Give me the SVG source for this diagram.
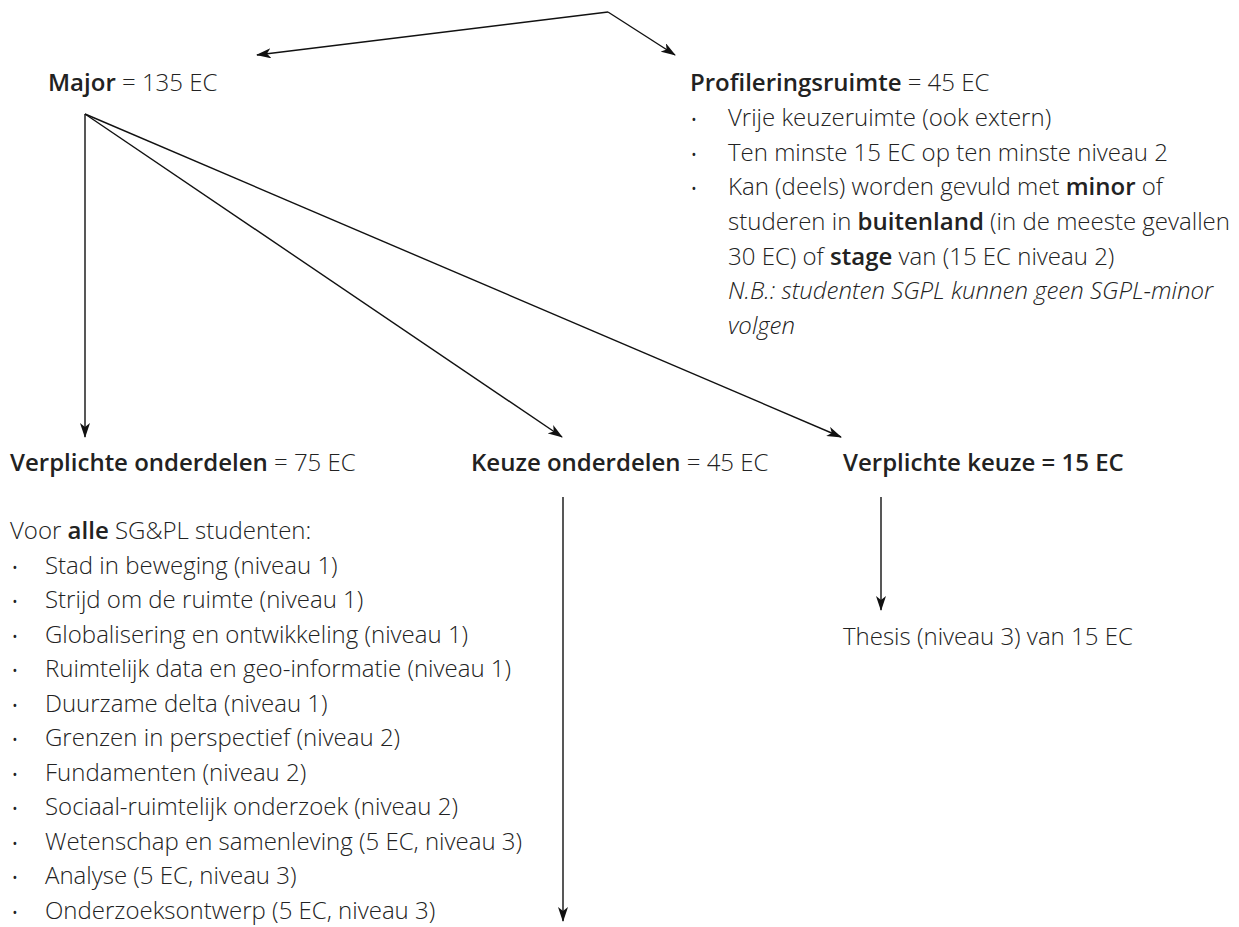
<svg xmlns="http://www.w3.org/2000/svg" width="1239" height="927" viewBox="0 0 1239 927">
<style>
text{font-family:"Open Sans","Liberation Sans",sans-serif;font-size:24px;font-weight:300;fill:#222}
.b{font-weight:600}
.i{font-style:italic}
.d{font-size:18px;text-anchor:middle}
.c{stroke:#111;stroke-width:1.4;fill:none;marker-end:url(#ah)}
</style>
<defs>
<marker id="ah" viewBox="0 0 15 10" refX="14" refY="5" markerWidth="15" markerHeight="10" markerUnits="userSpaceOnUse" orient="auto">
<path d="M0,0 L15,5 L0,10 L4,5 Z" fill="#111"/>
</marker>
</defs>
<rect width="1239" height="927" fill="#fff"/>
<g id="connectors">
<path class="c" d="M608,12 L257,55"/>
<path class="c" d="M608,12 L675,55"/>
<path class="c" d="M85,114 L85,437"/>
<path class="c" d="M85,114 L562,437"/>
<path class="c" d="M85,114 L841,437"/>
<path class="c" d="M563,497 L563,921"/>
<path class="c" d="M881,497 L881,610"/>
</g>
<g id="major"><text x="48" y="91"><tspan class="b">Major</tspan> = 135 EC</text></g>
<g id="profilering">
<text x="690" y="91"><tspan class="b">Profileringsruimte</tspan> = 45 EC</text>
<text x="694" y="126" class="d">•</text><text x="728" y="126">Vrije keuzeruimte (ook extern)</text>
<text x="694" y="161" class="d">•</text><text x="728" y="161">Ten minste 15 EC op ten minste niveau 2</text>
<text x="694" y="195" class="d">•</text><text x="728" y="195">Kan (deels) worden gevuld met <tspan class="b">minor</tspan> of</text>
<text x="728" y="230">studeren in <tspan class="b">buitenland</tspan> (in de meeste gevallen</text>
<text x="728" y="265">30 EC) of <tspan class="b">stage</tspan> van (15 EC niveau 2)</text>
<text x="728" y="299" class="i">N.B.: studenten SGPL kunnen geen SGPL-minor</text>
<text x="728" y="334" class="i">volgen</text>
</g>
<g id="verplicht">
<text x="10" y="471"><tspan class="b">Verplichte onderdelen</tspan> = 75 EC</text>
<text x="10" y="539">Voor <tspan class="b">alle</tspan> SG&amp;PL studenten:</text>
<text x="15" y="573.5" class="d">•</text><text x="45" y="573.5">Stad in beweging (niveau 1)</text>
<text x="15" y="608" class="d">•</text><text x="45" y="608">Strijd om de ruimte (niveau 1)</text>
<text x="15" y="642.5" class="d">•</text><text x="45" y="642.5">Globalisering en ontwikkeling (niveau 1)</text>
<text x="15" y="677" class="d">•</text><text x="45" y="677">Ruimtelijk data en geo-informatie (niveau 1)</text>
<text x="15" y="711.5" class="d">•</text><text x="45" y="711.5">Duurzame delta (niveau 1)</text>
<text x="15" y="746" class="d">•</text><text x="45" y="746">Grenzen in perspectief (niveau 2)</text>
<text x="15" y="780.5" class="d">•</text><text x="45" y="780.5">Fundamenten (niveau 2)</text>
<text x="15" y="815" class="d">•</text><text x="45" y="815">Sociaal-ruimtelijk onderzoek (niveau 2)</text>
<text x="15" y="849.5" class="d">•</text><text x="45" y="849.5">Wetenschap en samenleving (5 EC, niveau 3)</text>
<text x="15" y="884" class="d">•</text><text x="45" y="884">Analyse (5 EC, niveau 3)</text>
<text x="15" y="918.5" class="d">•</text><text x="45" y="918.5">Onderzoeksontwerp (5 EC, niveau 3)</text>
</g>
<g id="keuze"><text x="471" y="471"><tspan class="b">Keuze onderdelen</tspan> = 45 EC</text></g>
<g id="verplichtekeuze"><text x="843" y="471" class="b">Verplichte keuze = 15 EC</text></g>
<g id="thesis"><text x="843" y="645">Thesis (niveau 3) van 15 EC</text></g>
</svg>
